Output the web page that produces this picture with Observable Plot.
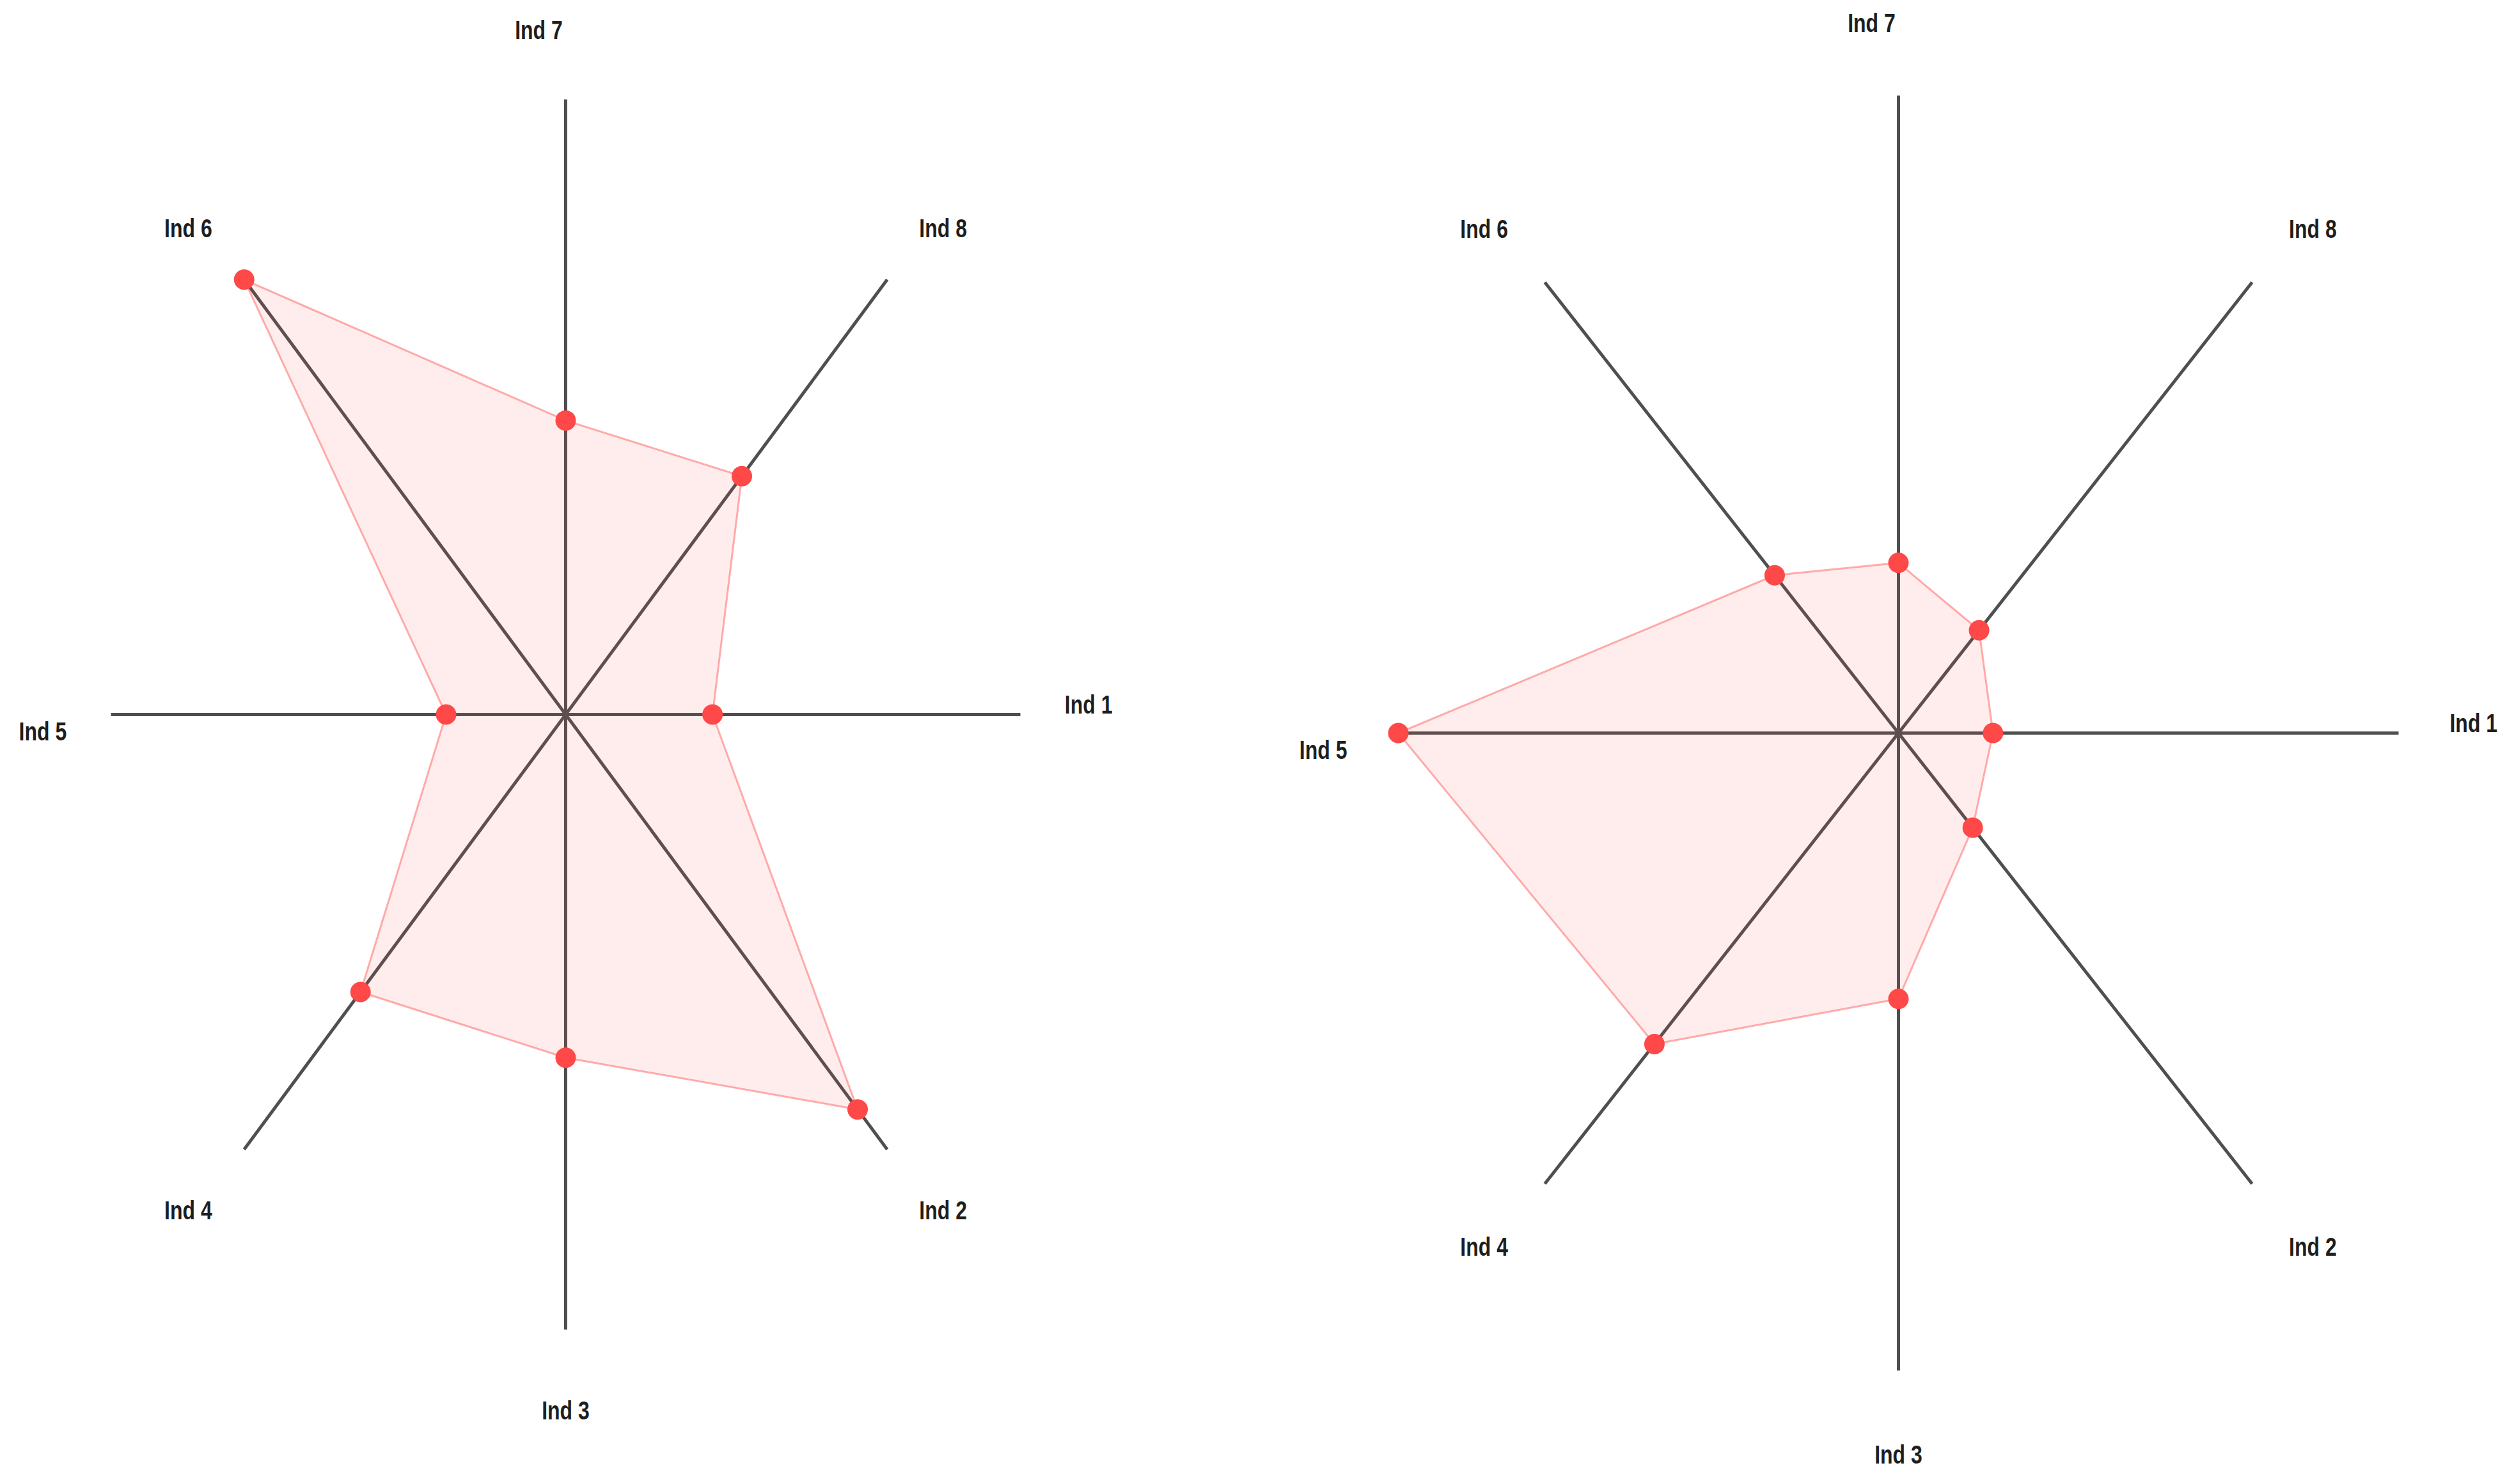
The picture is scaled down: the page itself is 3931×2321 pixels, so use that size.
<!DOCTYPE html>
<html>
<head>
<meta charset="utf-8">
<script src="https://cdn.jsdelivr.net/npm/d3@7"></script>
<script src="https://cdn.jsdelivr.net/npm/@observablehq/plot@0.6"></script>
<style>
  html, body { margin: 0; padding: 0; background: #ffffff; }
  #wrap { display: flex; width: 3931px; height: 2321px; }
  #wrap svg { overflow: visible; display: block; }
</style>
</head>
<body>
<div id="wrap"><div id="left"></div><div id="right"></div></div>
<script>
// ---- data ----
const categories = ["Ind 1", "Ind 2", "Ind 3", "Ind 4", "Ind 5", "Ind 6", "Ind 7", "Ind 8"];
const leftValues  = [0.323, 0.908, 0.558, 0.638, 0.263, 1.000, 0.478, 0.548];
const rightValues = [0.189, 0.210, 0.417, 0.690, 1.000, 0.350, 0.267, 0.228];
const axisMax = 1;

// ---- layout / style ----
const labelRadius = 1.15;
// pixel nudges for each label (dx, dy)
const labelNudge = [[0, -14], [12, -6], [0, -17], [-12, -6], [0, 28], [-12, 23], [-42, 37], [12, 23]];
const labelCondense = 0.8; // narrow-font look

const angleOf = i => -i * Math.PI * 2 / categories.length;

function radar(values, box) {
  const rows = categories.map((c, i) => ({
    cat: c, i, v: values[i],
    px: values[i] / axisMax * Math.cos(angleOf(i)),
    py: values[i] / axisMax * Math.sin(angleOf(i)),
    ex: Math.cos(angleOf(i)),
    ey: Math.sin(angleOf(i)),
    lx: labelRadius * Math.cos(angleOf(i)),
    ly: labelRadius * Math.sin(angleOf(i))
  }));
  const labelMarks = rows.map(r => Plot.text([r], {
    x: "lx", y: "ly", text: "cat",
    dx: labelNudge[r.i][0], dy: labelNudge[r.i][1],
    fontSize: 40, fontWeight: "bold",
    fill: "#1e1e1e", textAnchor: "middle", lineAnchor: "middle"
  }));
  return Plot.plot({
    width: box.width, height: box.height,
    marginLeft: box.ml, marginRight: box.mr, marginTop: box.mt, marginBottom: box.mb,
    x: {domain: [-1, 1], axis: null},
    y: {domain: [-1, 1], axis: null},
    style: {background: "transparent", overflow: "visible",
            fontFamily: "'Liberation Sans', Arial, sans-serif"},
    marks: [
      Plot.link(rows, {x1: () => 0, y1: () => 0, x2: "ex", y2: "ey",
        stroke: "#4f4f4f", strokeWidth: 5, strokeLinecap: "butt"}),
      Plot.line(rows, {x: "px", y: "py", curve: "linear-closed",
        fill: "#ff4d4d", fillOpacity: 0.1,
        stroke: "#ff4d4d", strokeOpacity: 0.45, strokeWidth: 3}),
      Plot.dot(rows, {x: "px", y: "py", r: 16, fill: "#ff4848", stroke: "none"}),
      ...labelMarks
    ]
  });
}

function condense(svg) {
  svg.querySelectorAll('g[aria-label="text"] text').forEach(t => {
    const w = t.getComputedTextLength();
    t.setAttribute("textLength", (w * labelCondense).toFixed(1));
    t.setAttribute("lengthAdjust", "spacingAndGlyphs");
  });
}

const l = radar(leftValues, {width: 1960, height: 2321, ml: 173, mr: 365, mt: 155, mb: 242});
document.getElementById("left").appendChild(l);
const r = radar(rightValues, {width: 1971, height: 2321, ml: 226, mr: 181, mt: 149, mb: 178});
document.getElementById("right").appendChild(r);
condense(l);
condense(r);
</script>
</body>
</html>
